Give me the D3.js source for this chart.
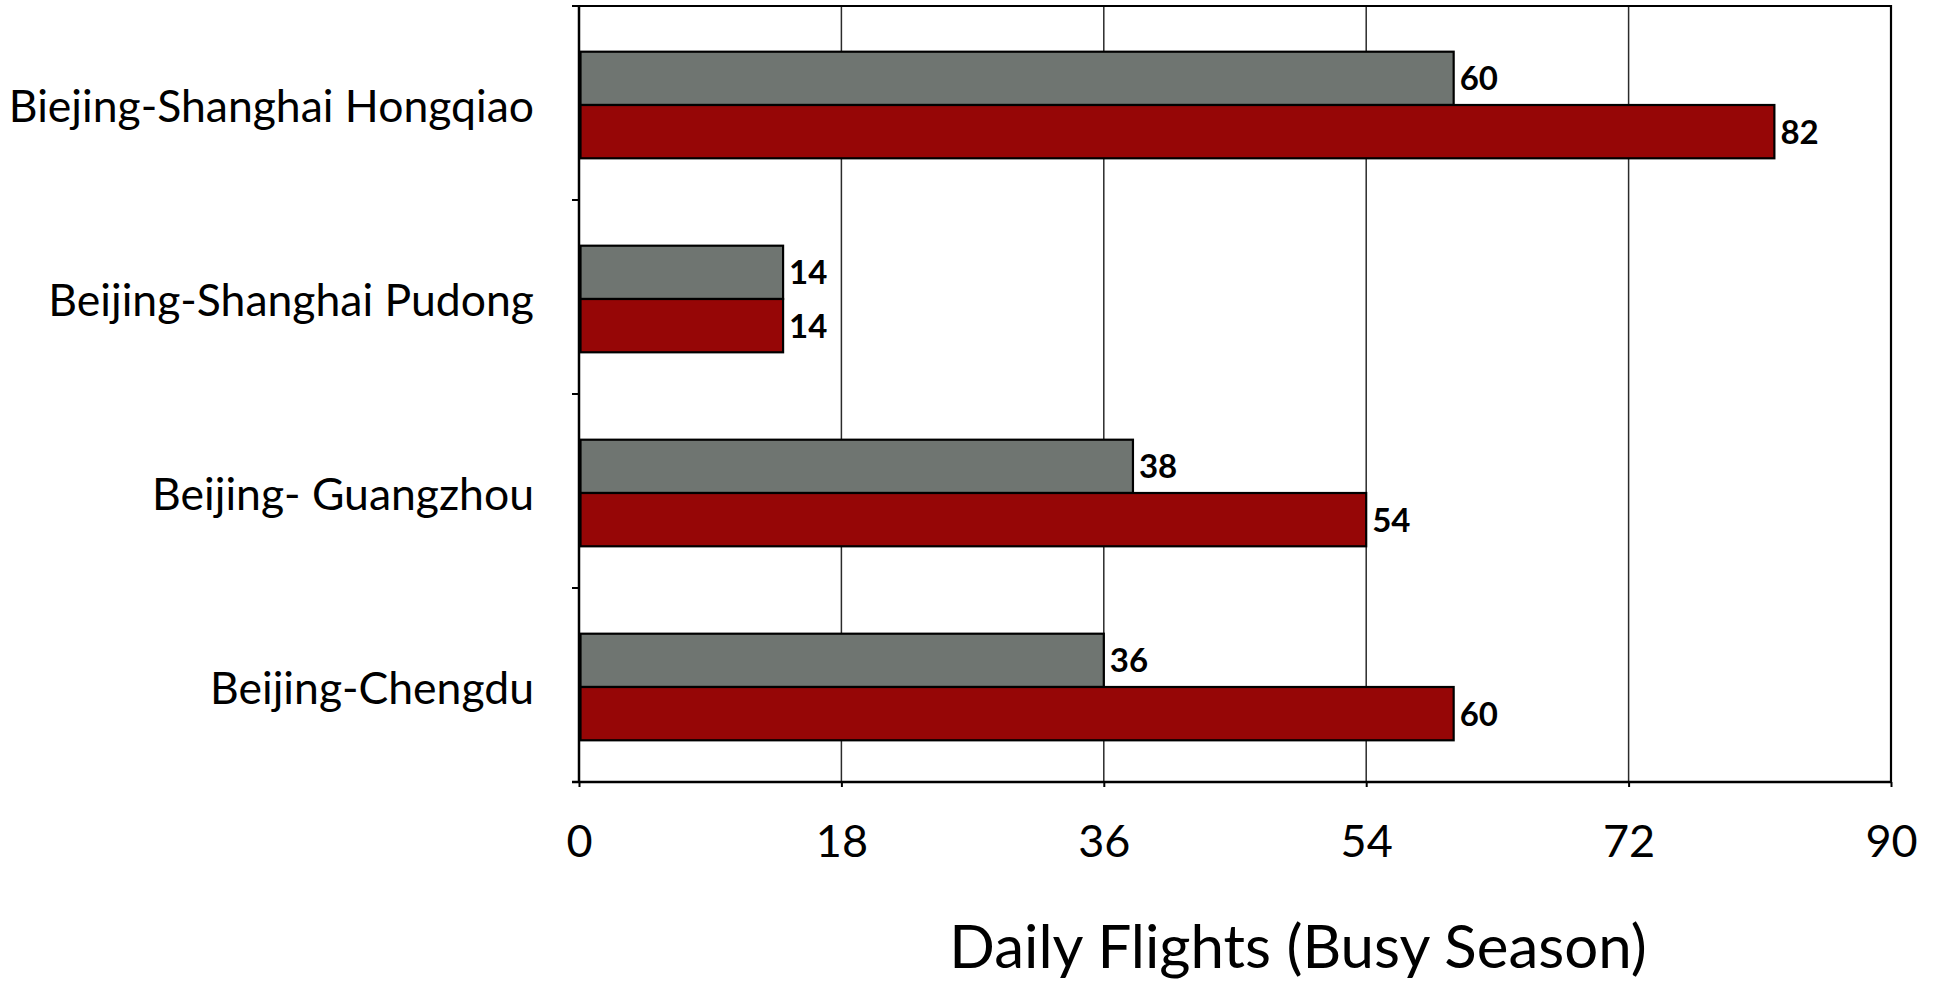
<!DOCTYPE html>
<html>
<head>
<meta charset="utf-8">
<script src="https://cdn.jsdelivr.net/npm/d3@7/dist/d3.min.js"></script>
<style>
  html, body { margin: 0; padding: 0; background: #fff; }
  svg { display: block; }
  text { font-family: Lato, "Open Sans", sans-serif; fill: #000; }
</style>
</head>
<body>
<svg id="chart" width="1936" height="981"></svg>
<script>
// Routes, top to bottom
const routes = [
  "Biejing-Shanghai Hongqiao",
  "Beijing-Shanghai Pudong",
  "Beijing- Guangzhou",
  "Beijing-Chengdu"
];
// Daily flights per route, two series (grey drawn above red)
const greyFlights = [60, 14, 38, 36];
const redFlights  = [82, 14, 54, 60];
const xTicks = [0, 18, 36, 54, 72, 90];
const xTitle = "Daily Flights (Busy Season)";

const series = [
  { key: "grey", values: greyFlights, fill: "#6f7571" },
  { key: "red",  values: redFlights,  fill: "#960606" }
];

const W = 1936, H = 981;
const margin = { top: 6, right: 45, bottom: 199, left: 579 };
const pw = W - margin.left - margin.right;
const ph = H - margin.top - margin.bottom;

const svg = d3.select("#chart");
const g = svg.append("g").attr("transform", `translate(${margin.left},${margin.top})`);

const x = d3.scaleLinear().domain([0, 90]).range([0, pw]);
const y = d3.scaleBand().domain(routes).range([0, ph]).paddingInner(0).paddingOuter(0);
const inner = d3.scaleBand().domain(series.map(s => s.key))
  .range([2, y.bandwidth() + 2]).paddingInner(0).paddingOuter(0.82);

// vertical gridlines
g.append("g").selectAll("line")
  .data(xTicks.filter(t => t > 0 && t < 90))
  .join("line")
  .attr("x1", d => x(d)).attr("x2", d => x(d))
  .attr("y1", 0).attr("y2", ph)
  .attr("stroke", "#2b2b2b").attr("stroke-width", 1.5);

// plot frame (top and right)
g.append("path")
  .attr("d", `M0,0H${pw}V${ph}`)
  .attr("fill", "none").attr("stroke", "#000").attr("stroke-width", 2.2);

// bars
const groups = g.append("g").selectAll("g")
  .data(routes)
  .join("g")
  .attr("transform", d => `translate(0,${y(d)})`);

series.forEach(s => {
  groups.append("rect")
    .attr("x", x(0) + 1.5)
    .attr("y", (d, i) => inner(s.key))
    .attr("width", (d, i) => x(s.values[i]) - x(0) - 1.5)
    .attr("height", inner.bandwidth())
    .attr("fill", s.fill)
    .attr("stroke", "#000")
    .attr("stroke-width", 2.2);

  groups.append("text")
    .attr("x", (d, i) => x(s.values[i]) + 6)
    .attr("y", (d, i) => inner(s.key) + inner.bandwidth() / 2)
    .attr("dy", "0.36em")
    .attr("font-size", 33)
    .attr("font-weight", "bold")
    .text((d, i) => s.values[i]);
});

// left axis: ticks at band boundaries
const yAxisG = g.append("g");
yAxisG.append("line")
  .attr("x1", 0).attr("x2", 0).attr("y1", 0).attr("y2", ph)
  .attr("stroke", "#000").attr("stroke-width", 2.5);
const bounds = routes.map(r => y(r)).concat([ph]);
yAxisG.selectAll("line.tick")
  .data(bounds)
  .join("line")
  .attr("class", "tick")
  .attr("x1", -7).attr("x2", 0)
  .attr("y1", d => d).attr("y2", d => d)
  .attr("stroke", "#000").attr("stroke-width", 2);
yAxisG.selectAll("text")
  .data(routes)
  .join("text")
  .attr("x", -45)
  .attr("y", d => y(d) + y.bandwidth() / 2 + 3)
  .attr("dy", "0.35em")
  .attr("text-anchor", "end")
  .attr("font-size", 44.5)
  .text(d => d);

// bottom axis
const xAxis = d3.axisBottom(x).tickValues(xTicks).tickSize(5).tickPadding(38).tickFormat(d3.format("d"));
const xAxisG = g.append("g")
  .attr("transform", `translate(0,${ph})`)
  .call(xAxis);
xAxisG.select(".domain")
  .attr("d", `M-7,0H${pw}`)
  .attr("stroke", "#000").attr("stroke-width", 2.5);
xAxisG.selectAll(".tick line").attr("stroke", "#000").attr("stroke-width", 2);
xAxisG.selectAll(".tick text")
  .attr("font-family", "Lato, sans-serif")
  .attr("font-size", 45)
  .attr("fill", "#000");

// axis title
svg.append("text")
  .attr("x", 1298)
  .attr("y", 968)
  .attr("text-anchor", "middle")
  .attr("font-size", 60)
  .text(xTitle);
</script>
</body>
</html>
